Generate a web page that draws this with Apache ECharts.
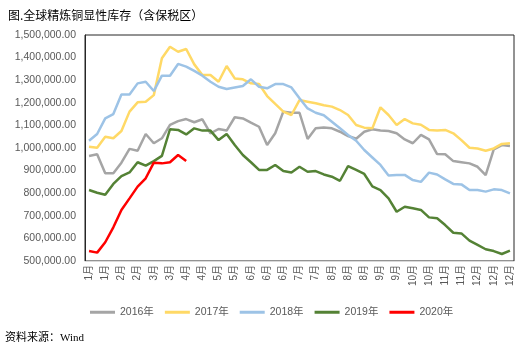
<!DOCTYPE html>
<html>
<head>
<meta charset="utf-8">
<script src="https://cdn.jsdelivr.net/npm/echarts@6/dist/echarts.min.js"></script>
<style>
  html, body { margin: 0; padding: 0; background: #fff; }
  #chart { width: 522px; height: 351px; }
</style>
</head>
<body>
<div id="chart"></div>
<script>
// weekly categories, only every other one is labelled
const categories = [
  '1月', '1月', '1月', '1月', '2月', '2月', '2月', '2月',
  '3月', '3月', '3月', '3月', '4月', '4月', '4月', '4月',
  '5月', '5月', '5月', '5月', '6月', '6月', '6月', '6月', '6月',
  '7月', '7月', '7月', '7月', '7月', '8月', '8月', '8月', '8月', '8月', '8月',
  '9月', '9月', '9月', '9月', '10月', '10月', '10月', '10月',
  '11月', '11月', '11月', '11月', '12月', '12月', '12月', '12月', '12月'
]

const seriesNames = ['2016年', '2017年', '2018年', '2019年', '2020年']

// values in thousand tonnes (x1000 when drawn)
const y2016 = [965, 972, 888, 888, 935, 996, 988, 1062, 1021, 1043, 1102, 1119, 1128, 1114, 1127, 1065, 1084, 1077,
  1136, 1131, 1112, 1094, 1013, 1065, 1161, 1156, 1156, 1040, 1087, 1091, 1087, 1072, 1053, 1041, 1072, 1083,
  1077, 1075, 1065, 1038, 1021, 1058, 1038, 973, 972, 942, 937, 932, 917, 880, 994, 1013, 1009]
const y2017 = [1006, 1001, 1050, 1043, 1075, 1161, 1202, 1205, 1234, 1397, 1448, 1426, 1438, 1370, 1323, 1323, 1293, 1363,
  1308, 1304, 1286, 1283, 1230, 1195, 1161, 1146, 1212, 1205, 1198, 1189, 1183, 1168, 1146, 1102, 1090, 1087,
  1180, 1146, 1102, 1128, 1109, 1103, 1080, 1077, 1080, 1065, 1035, 1001, 998, 988, 998, 1018, 1021]
const y2018 = [1032, 1062, 1131, 1150, 1237, 1237, 1286, 1293, 1252, 1320, 1320, 1372, 1360, 1341, 1320, 1293, 1271, 1261,
  1268, 1274, 1304, 1271, 1264, 1283, 1283, 1268, 1220, 1175, 1156, 1145, 1116, 1087, 1058, 1032, 991, 958,
  925, 878, 881, 881, 858, 850, 891, 883, 861, 841, 839, 814, 814, 807, 817, 814, 799]
const y2019 = [814, 802, 793, 841, 876, 892, 937, 922, 942, 965, 1083, 1080, 1060, 1087, 1077, 1077, 1035, 1062,
  1013, 969, 937, 903, 903, 925, 898, 892, 917, 895, 898, 883, 873, 855, 920, 903, 885, 830,
  814, 777, 718, 740, 733, 726, 693, 689, 659, 625, 622, 590, 571, 552, 544, 531, 546]
const y2020 = [544, 537, 583, 649, 726, 777, 829, 866, 935, 932, 937, 969, 942]

const colors = ['#A5A5A5', '#FFD966', '#9DC3E6', '#548235', '#FF0000']

function fmt(v) {
  return Number(v).toFixed(2).replace(/\B(?=(\d{3})+(?!\d))/g, ',')
}

const chart = echarts.init(document.getElementById('chart'))

const allData = [y2016, y2017, y2018, y2019, y2020]

chart.setOption({
  animation: false,
  color: colors,
  title: {
    text: '图.全球精炼铜显性库存（含保税区）',
    left: 3,
    top: 4,
    textStyle: {
      fontFamily: 'Noto Sans CJK SC',
      fontSize: 12,
      fontWeight: 'normal',
      color: '#000'
    }
  },
  legend: {
    left: 85,
    top: 302,
    itemWidth: 25,
    itemHeight: 3,
    itemGap: 11,
    icon: 'rect',
    data: seriesNames,
    textStyle: {
      fontSize: 10.5,
      color: '#595959',
      fontFamily: 'Liberation Sans, Noto Sans CJK SC'
    }
  },
  graphic: [{
    type: 'text',
    left: 5,
    top: 333,
    style: {
      text: '资料来源：Wind',
      fontSize: 11,
      fontFamily: 'Liberation Serif, Noto Sans CJK SC',
      fill: '#000'
    }
  }],
  grid: {
    left: 85,
    right: 8,
    top: 35,
    bottom: 90,
    show: true,
    borderColor: '#262626',
    borderWidth: 1
  },
  xAxis: {
    type: 'category',
    data: categories,
    boundaryGap: true,
    axisLine: { lineStyle: { color: '#D9D9D9', width: 1 } },
    axisTick: { show: false },
    axisLabel: {
      interval: 1,
      rotate: 90,
      fontSize: 10,
      color: '#595959',
      margin: 4,
      fontFamily: 'Liberation Sans, Noto Sans CJK SC'
    }
  },
  yAxis: {
    type: 'value',
    min: 500000,
    max: 1500000,
    interval: 100000,
    splitLine: { show: false },
    axisLine: { show: true, lineStyle: { color: '#262626' } },
    axisTick: { show: false },
    axisLabel: {
      fontSize: 10.5,
      color: '#595959',
      margin: 9,
      fontFamily: 'Liberation Sans',
      formatter: fmt
    }
  },
  series: allData.map((d, i) => ({
    name: seriesNames[i],
    type: 'line',
    data: d.map(v => v * 1000),
    showSymbol: false,
    symbol: 'none',
    z: 2 + i,
    lineStyle: { width: 2.5, color: colors[i] }
  }))
})
</script>
</body>
</html>
